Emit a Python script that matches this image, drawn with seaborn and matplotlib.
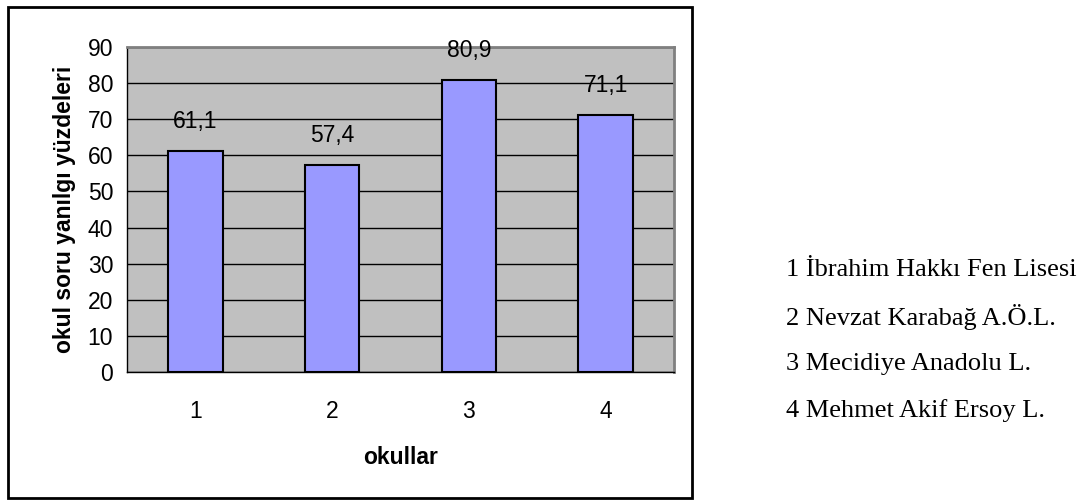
import matplotlib
matplotlib.use("Agg")
import matplotlib.pyplot as plt
import seaborn as sns
from matplotlib.patches import Rectangle

okullar = ["1", "2", "3", "4"]
yuzdeler = [61.1, 57.4, 80.9, 71.1]
okul_adlari = [
    "1 İbrahim Hakkı Fen Lisesi",
    "2 Nevzat Karabağ A.Ö.L.",
    "3 Mecidiye Anadolu L.",
    "4 Mehmet Akif Ersoy L.",
]
y_ticks = list(range(0, 100, 10))


def createBarPlot():
    sns.set_style("white")
    plt.rcParams["font.family"] = ["Liberation Sans", "DejaVu Sans"]
    plt.rcParams["text.color"] = "black"
    plt.rcParams["axes.labelcolor"] = "black"
    plt.rcParams["xtick.color"] = "black"
    plt.rcParams["ytick.color"] = "black"
    fs = 16.5

    fig = plt.figure(figsize=(10.88, 5.0), dpi=100)
    ax = fig.add_axes([127 / 1088, 1 - 372 / 500, (674 - 127) / 1088, (372 - 47) / 500])

    sns.barplot(x=okullar, y=yuzdeler, color="#9999FF", edgecolor="black",
                linewidth=1.5, width=0.4, saturation=1, ax=ax, zorder=3)

    ax.set_facecolor("#C0C0C0")
    ax.set_xlim(-0.5, 3.5)
    ax.set_ylim(0, 90)
    ax.set_yticks(y_ticks)
    ax.yaxis.grid(True, color="black", linewidth=1, zorder=1)
    ax.set_axisbelow(True)

    # ticks between categories, labels under the bars
    ax.set_xticks([-0.5, 0.5, 1.5, 2.5, 3.5])
    ax.set_xticklabels([])
    ax.set_xticks(range(len(okullar)), minor=True)
    ax.set_xticklabels(okullar, minor=True, fontsize=fs)
    ax.tick_params(axis="x", which="major", direction="out", length=6, width=1, color="black")
    ax.tick_params(axis="x", which="minor", length=0, pad=20)
    ax.tick_params(axis="y", direction="out", length=6, width=1, color="black", labelsize=fs, pad=4)

    for side in ["top", "right"]:
        ax.spines[side].set_color("#808080")
        ax.spines[side].set_linewidth(2)
    for side in ["left", "bottom"]:
        ax.spines[side].set_color("black")
        ax.spines[side].set_linewidth(1)

    ax.bar_label(ax.containers[0], labels=[str(v).replace(".", ",") for v in yuzdeler],
                 padding=13, fontsize=fs, color="black")

    ax.set_xlabel("okullar", fontsize=fs, fontweight="bold", labelpad=17)
    ax.set_ylabel("okul soru yanılgı yüzdeleri", fontsize=fs, fontweight="bold", labelpad=8)

    # outer chart frame
    fig.patches.append(Rectangle((8 / 1088, 2 / 500), (692 - 8) / 1088, (498 - 7) / 500,
                                 transform=fig.transFigure, fill=False,
                                 edgecolor="black", linewidth=2))

    for i, ad in enumerate(okul_adlari):
        fig.text(786 / 1088, 1 - (270 + 47 * i) / 500, ad, fontsize=19,
                 family=["Liberation Serif", "DejaVu Serif"], va="center", ha="left")

    fig.savefig("out.png", dpi=100)


if __name__ == '__main__':

    createBarPlot()
